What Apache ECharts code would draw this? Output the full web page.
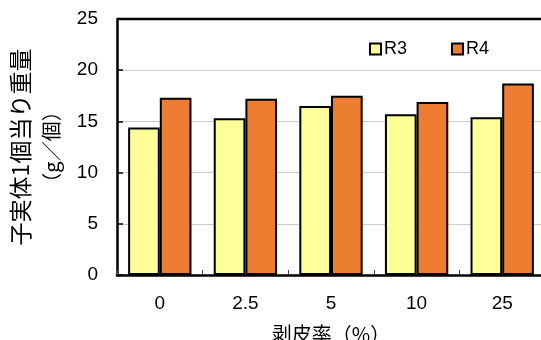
<!DOCTYPE html>
<html>
<head>
<meta charset="utf-8">
<script src="https://cdn.jsdelivr.net/npm/echarts@6/dist/echarts.min.js"></script>
<style>
  html, body { margin: 0; padding: 0; background: #fff; }
  #chart { width: 541px; height: 340px; }
</style>
</head>
<body>
<div id="chart"></div>
<script>
// 剥皮率ごとの子実体1個当り重量
const categories = ['0', '2.5', '5', '10', '25'];
const seriesNames = ['R3', 'R4'];
const r3Values = [14.4, 15.3, 16.5, 15.7, 15.4];
const r4Values = [17.3, 17.2, 17.5, 16.9, 18.7];
const yTicks = [0, 5, 10, 15, 20, 25];

const numFont = '"Liberation Sans", Arial, sans-serif';
const jpFont = '"Noto Sans CJK JP", sans-serif';

const chart = echarts.init(document.getElementById('chart'), null, { renderer: 'canvas' });

chart.setOption({
  animation: false,
  backgroundColor: '#ffffff',
  grid: { left: 117, top: 19, width: 428, height: 256, containLabel: false, outerBoundsMode: 'none' },
  legend: {
    data: seriesNames,
    left: 364,
    top: 35,
    itemWidth: 11,
    itemHeight: 11,
    itemGap: 44,
    icon: 'rect',
    textStyle: { fontFamily: numFont, fontSize: 18, color: '#000', padding: [0, 0, 0, -2] }
  },
  xAxis: {
    type: 'category',
    data: categories,
    name: '剥皮率（%）',
    nameLocation: 'middle',
    nameGap: 49,
    nameTextStyle: { fontFamily: jpFont, fontSize: 20, color: '#000' },
    axisLine: { lineStyle: { color: '#000', width: 2.5 } },
    axisTick: { show: true, inside: true, length: 5, lineStyle: { color: '#444', width: 1 } },
    axisLabel: { fontFamily: numFont, fontSize: 19, color: '#000', margin: 19 },
    splitLine: { show: false }
  },
  yAxis: {
    type: 'value',
    min: yTicks[0],
    max: yTicks[yTicks.length - 1],
    interval: 5,
    name: '{a|子実体1個当り重量}\n{b|（g／個）}',
    nameLocation: 'middle',
    nameRotate: 90,
    nameGap: 51,
    nameTextStyle: {
      color: '#000',
      rich: {
        a: { fontFamily: jpFont, fontSize: 23, lineHeight: 32, color: '#000' },
        b: { fontFamily: jpFont, fontSize: 20, lineHeight: 30, color: '#000' }
      }
    },
    axisLine: { show: true, lineStyle: { color: '#000', width: 2.5 } },
    axisTick: { show: true, inside: true, length: 6, lineStyle: { color: '#000', width: 1.5 } },
    axisLabel: { fontFamily: numFont, fontSize: 19, color: '#000', margin: 19 },
    splitLine: { show: true, lineStyle: { color: '#cccccc', width: 1 } }
  },
  graphic: [
    {
      type: 'line',
      shape: { x1: 117, y1: 19, x2: 541, y2: 19 },
      style: { stroke: '#000', lineWidth: 2.5 },
      z: 10
    }
  ],
  series: [
    {
      name: seriesNames[0],
      type: 'bar',
      data: r3Values,
      barGap: '0%',
      barCategoryGap: '26%',
      itemStyle: { color: '#FFFF99', borderColor: '#000', borderWidth: 2 }
    },
    {
      name: seriesNames[1],
      type: 'bar',
      data: r4Values,
      itemStyle: { color: '#ED7D31', borderColor: '#000', borderWidth: 2 }
    }
  ]
});
</script>
</body>
</html>
